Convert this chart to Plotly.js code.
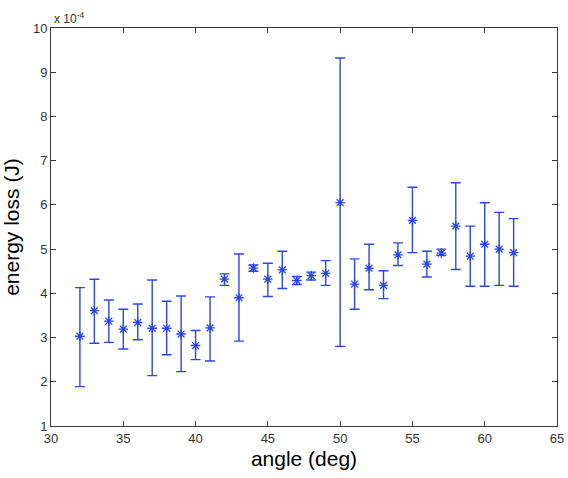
<!DOCTYPE html>
<html>
<head>
<meta charset="utf-8">
<script src="https://cdn.plot.ly/plotly-3.0.1.min.js"></script>
<style>
  html, body { margin: 0; padding: 0; background: #fff; }
  #chart { width: 568px; height: 478px; }
</style>
</head>
<body>
<div id="chart"></div>
<script>
// Angle of incidence (deg)
const angle = [32, 33, 34, 35, 36, 37, 38, 39, 40, 41, 42, 43, 44, 45, 46, 47,
               48, 49, 50, 51, 52, 53, 54, 55, 56, 57, 58, 59, 60, 61, 62];

// Mean energy loss, in units of 1e-4 J
const energyLoss = [3.03, 3.61, 3.37, 3.19, 3.34, 3.21, 3.21, 3.08, 2.82, 3.22, 4.32,
                    3.90, 4.57, 4.32, 4.53, 4.29, 4.40, 4.45, 6.05, 4.21, 4.57, 4.18,
                    4.87, 5.65, 4.66, 4.91, 5.52, 4.84, 5.11, 5.00, 4.92];

// Upper end of each error bar (1e-4 J)
const upperBound = [4.13, 4.32, 3.85, 3.64, 3.76, 4.30, 3.82, 3.94, 3.16, 3.92, 4.44,
                    4.89, 4.64, 4.68, 4.95, 4.38, 4.48, 4.74, 9.32, 4.78, 5.11, 4.51,
                    5.14, 6.40, 4.95, 5.00, 6.50, 5.52, 6.05, 5.83, 5.69];

// Lower end of each error bar (1e-4 J)
const lowerBound = [1.89, 2.87, 2.89, 2.74, 2.95, 2.14, 2.61, 2.23, 2.50, 2.47, 4.18,
                    2.92, 4.50, 3.93, 4.11, 4.20, 4.30, 4.18, 2.80, 3.64, 4.08, 3.88,
                    4.63, 4.92, 4.37, 4.86, 4.54, 4.16, 4.16, 4.18, 4.16];

const xTicks = [30, 35, 40, 45, 50, 55, 60, 65];
const yTicks = [1, 2, 3, 4, 5, 6, 7, 8, 9, 10];

const blue = '#2a47e6';
const axisColor = '#3a3a3a';

const errPlus = upperBound.map((u, i) => u - energyLoss[i]);
const errMinus = lowerBound.map((l, i) => energyLoss[i] - l);

const trace = {
  x: angle,
  y: energyLoss,
  type: 'scatter',
  mode: 'markers',
  marker: {
    symbol: 'asterisk-open',
    size: 8,
    color: blue,
    line: { color: blue, width: 1.3 }
  },
  error_y: {
    type: 'data',
    symmetric: false,
    array: errPlus,
    arrayminus: errMinus,
    color: blue,
    thickness: 1.4,
    width: 5
  },
  hoverinfo: 'x+y'
};

const tickFont = { family: 'Liberation Sans, Arial, sans-serif', size: 13, color: '#333' };
const titleFont = { family: 'Liberation Sans, Arial, sans-serif', size: 21, color: '#000' };

const layout = {
  width: 568,
  height: 478,
  paper_bgcolor: '#fff',
  plot_bgcolor: '#fff',
  showlegend: false,
  margin: { l: 51, r: 11, t: 28, b: 52 },
  xaxis: {
    range: [30, 65],
    tickvals: xTicks,
    ticktext: xTicks.map(String),
    ticks: 'inside',
    ticklen: 5,
    tickcolor: axisColor,
    showline: true,
    linecolor: axisColor,
    linewidth: 1,
    mirror: 'ticks',
    showgrid: false,
    zeroline: false,
    tickfont: tickFont,
    title: { text: 'angle (deg)', font: titleFont, standoff: 6 }
  },
  yaxis: {
    range: [1, 10],
    tickvals: yTicks,
    ticktext: yTicks.map(String),
    ticks: 'inside',
    ticklen: 5,
    tickcolor: axisColor,
    showline: true,
    linecolor: axisColor,
    linewidth: 1,
    mirror: 'ticks',
    showgrid: false,
    zeroline: false,
    tickfont: tickFont,
    title: { text: 'energy loss (J)', font: titleFont, standoff: 10 }
  },
  annotations: [{
    xref: 'paper', yref: 'paper',
    x: 0, y: 1,
    xanchor: 'left', yanchor: 'bottom',
    xshift: 1, yshift: 0,
    showarrow: false,
    text: 'x 10<sup>-4</sup>',
    font: { family: 'Liberation Sans, Arial, sans-serif', size: 12, color: '#333' }
  }]
};

Plotly.newPlot('chart', [trace], layout, { displayModeBar: false, staticPlot: true });
</script>
</body>
</html>
